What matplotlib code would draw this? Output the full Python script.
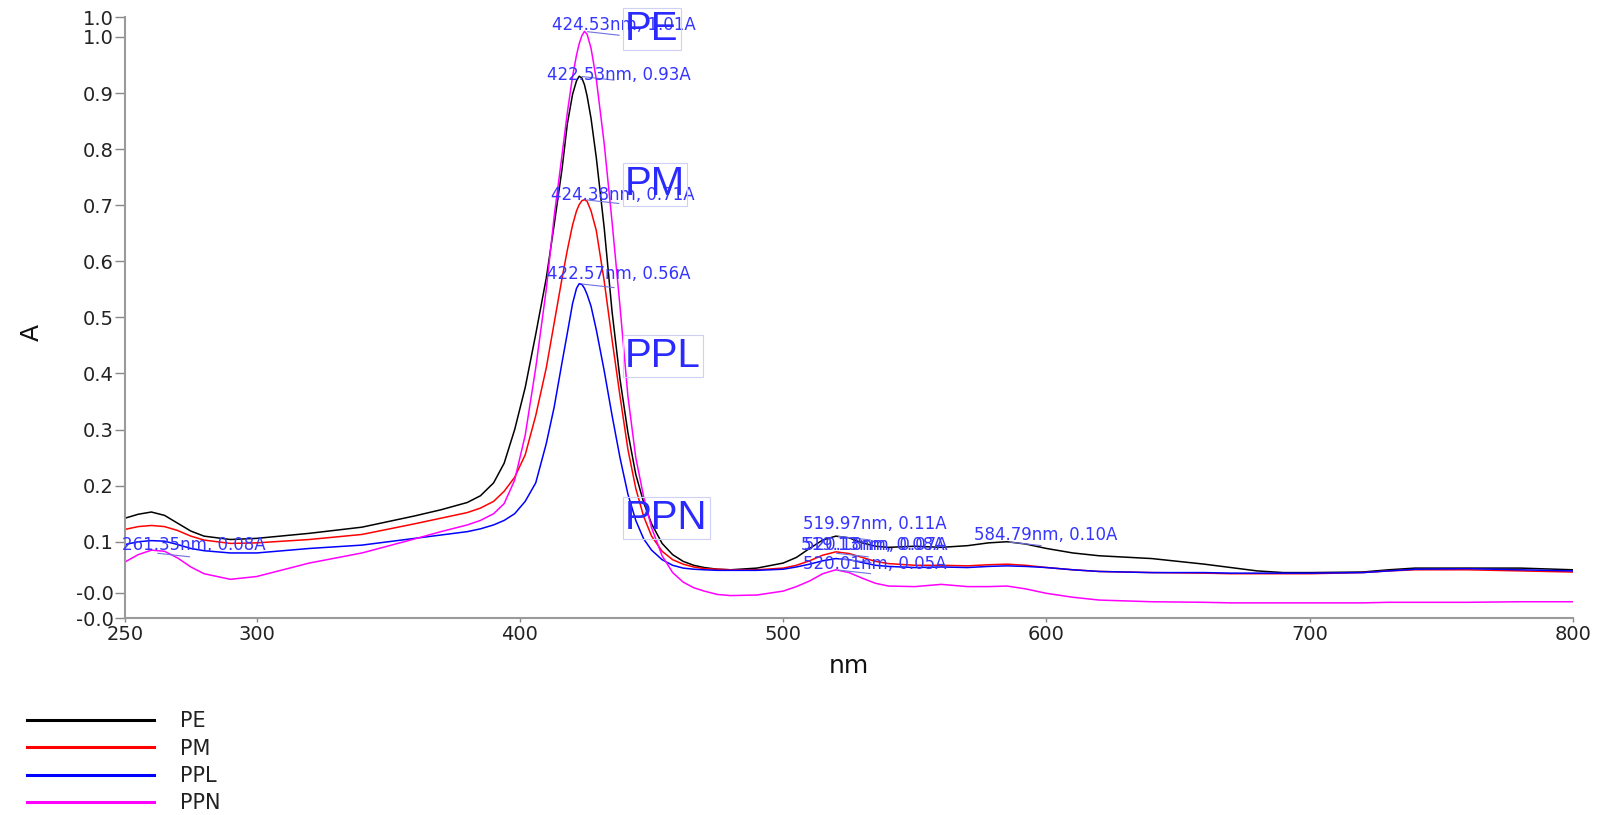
import numpy as np
import matplotlib
matplotlib.use('Agg')
import matplotlib.pyplot as plt

# wavelength grid (nm) shared by the four spectra
wavelength = [250, 255, 260, 265, 270, 275, 280, 290, 300, 320, 340, 360, 370, 380, 385, 390, 394,
              398, 402, 406, 410, 413, 416, 418, 420, 421.5, 422.5, 423.5, 424.5, 425.5, 427, 429,
              432, 435, 438, 441, 444, 447, 450, 454, 458, 462, 466, 470, 475, 480,
              490, 500, 505, 510, 515, 520, 525, 530, 535, 540, 550, 560, 570, 578, 585, 592,
              600, 610, 620, 640, 660, 670, 680, 690, 700, 720, 730, 740, 760, 780, 800]

# absorbance (A) of each sample
pe = [0.142, 0.149, 0.153, 0.147, 0.133, 0.119, 0.110, 0.104, 0.106, 0.115, 0.126, 0.146, 0.157, 0.170, 0.182, 0.205, 0.240,
      0.300, 0.375, 0.470, 0.570, 0.665, 0.765, 0.845, 0.898, 0.922, 0.930, 0.927, 0.915, 0.895, 0.855, 0.785,
      0.660, 0.510, 0.390, 0.295, 0.220, 0.170, 0.132, 0.097, 0.077, 0.065, 0.058, 0.054, 0.051, 0.050,
      0.053, 0.062, 0.072, 0.088, 0.103, 0.110, 0.107, 0.098, 0.092, 0.090, 0.092, 0.090, 0.093, 0.098, 0.100, 0.096,
      0.088, 0.080, 0.075, 0.070, 0.060, 0.054, 0.048, 0.045, 0.045, 0.046, 0.050, 0.053, 0.053, 0.053, 0.050]
pm = [0.122, 0.127, 0.129, 0.127, 0.120, 0.110, 0.103, 0.097, 0.098, 0.104, 0.113, 0.132, 0.142, 0.152, 0.160, 0.172, 0.190,
      0.215, 0.255, 0.325, 0.410, 0.490, 0.570, 0.620, 0.665, 0.690, 0.701, 0.708, 0.710, 0.707, 0.690, 0.655,
      0.565, 0.460, 0.360, 0.265, 0.195, 0.145, 0.110, 0.083, 0.068, 0.060, 0.055, 0.052, 0.051, 0.050,
      0.050, 0.053, 0.058, 0.066, 0.076, 0.082, 0.079, 0.072, 0.065, 0.061, 0.058, 0.058, 0.057, 0.059, 0.060, 0.058,
      0.054, 0.050, 0.047, 0.045, 0.044, 0.043, 0.043, 0.043, 0.043, 0.045, 0.048, 0.050, 0.050, 0.048, 0.046]
ppl = [0.095, 0.100, 0.102, 0.101, 0.095, 0.088, 0.084, 0.080, 0.080, 0.088, 0.094, 0.106, 0.112, 0.118, 0.123, 0.130, 0.138,
       0.150, 0.172, 0.205, 0.275, 0.340, 0.420, 0.472, 0.525, 0.552, 0.560, 0.559, 0.552, 0.541, 0.520, 0.478,
       0.405, 0.325, 0.250, 0.185, 0.138, 0.105, 0.085, 0.068, 0.058, 0.053, 0.051, 0.050, 0.049, 0.049,
       0.049, 0.051, 0.055, 0.060, 0.066, 0.070, 0.068, 0.063, 0.058, 0.056, 0.054, 0.055, 0.054, 0.056, 0.057, 0.056,
       0.054, 0.050, 0.047, 0.045, 0.045, 0.044, 0.044, 0.044, 0.044, 0.045, 0.048, 0.051, 0.052, 0.050, 0.048]
ppn = [0.064, 0.077, 0.085, 0.083, 0.071, 0.055, 0.043, 0.033, 0.038, 0.062, 0.080, 0.105, 0.118, 0.130, 0.138, 0.150, 0.168,
       0.210, 0.290, 0.410, 0.550, 0.680, 0.790, 0.865, 0.930, 0.968, 0.988, 1.002, 1.010, 1.005, 0.980, 0.925,
       0.810, 0.670, 0.520, 0.360, 0.250, 0.180, 0.125, 0.075, 0.045, 0.028, 0.018, 0.012, 0.006, 0.004,
       0.005, 0.012, 0.020, 0.030, 0.043, 0.050, 0.045, 0.035, 0.026, 0.021, 0.020, 0.024, 0.020, 0.020, 0.021, 0.016,
       0.008, 0.001, -0.004, -0.007, -0.008, -0.009, -0.009, -0.009, -0.009, -0.009, -0.008, -0.008, -0.008, -0.007, -0.007]

names = ['PE', 'PM', 'PPL', 'PPN']
colors = ['#000000', '#ff0000', '#0000ff', '#ff00ff']

# peak picks: (nm, A) and how far each label sits above its peak (points)
peak_nm = [424.53, 422.53, 424.38, 422.57, 519.97, 519.13, 520.18, 520.01, 584.79, 261.35]
peak_a = [1.01, 0.93, 0.71, 0.56, 0.11, 0.08, 0.07, 0.05, 0.10, 0.08]
label_dy = [4.7, 1.0, 3.6, 6.9, 8.4, 5.8, 9.8, 4.0, 5.0, 5.8]

# sample names written beside the main band
name_y = [1.015, 0.737, 0.431, 0.143]

ytick_pos = [-0.036, 0.009, 0.1, 0.2, 0.3, 0.4, 0.5, 0.6, 0.7, 0.8, 0.9, 1.0, 1.035]
ytick_lbl = ['-0.0', '-0.0', '0.1', '0.2', '0.3', '0.4', '0.5', '0.6', '0.7', '0.8', '0.9', '1.0', '1.0']
xtick_pos = [250, 300, 400, 500, 600, 700, 800]

fig = plt.figure(figsize=(16.03, 8.15), dpi=100)
ax = fig.add_axes([0.078, 0.2417, 0.9033, 0.737])

lines = []
for y, c, n in zip([pe, pm, ppl, ppn], colors, names):
    ln, = ax.plot(wavelength, y, color=c, lw=1.1, label=n, solid_joinstyle='round')
    lines.append(ln)

ax.set_xlim(250, 800)
ax.set_ylim(-0.036, 1.035)
ax.set_xticks(xtick_pos)
ax.set_yticks(ytick_pos)
ax.set_yticklabels(ytick_lbl)

for s in ['top', 'right']:
    ax.spines[s].set_visible(False)
for s in ['left', 'bottom']:
    ax.spines[s].set_color('#9a9a9a')
    ax.spines[s].set_linewidth(1.5)
ax.tick_params(axis='y', colors='#888888', length=7, width=1, pad=1, labelsize=14, labelcolor='#222222')
ax.tick_params(axis='x', colors='#888888', length=3, width=1, pad=2, labelsize=14, labelcolor='#222222')

ax.set_xlabel('nm', fontsize=18, color='#111111')
ax.set_ylabel('A', fontsize=18, color='#111111')
ax.xaxis.set_label_coords(0.5, -0.060)
ax.yaxis.set_label_coords(-0.056, 0.476)

# peak labels with short leader lines
for x0, a0, dy in zip(peak_nm, peak_a, label_dy):
    ax.annotate('', xy=(x0, a0), xytext=(27, -3), textcoords='offset points',
                arrowprops=dict(arrowstyle='-', color='#7070e0', lw=0.8))
    ax.annotate(f'{x0:.2f}nm, {a0:.2f}A', xy=(x0, a0), xytext=(-23.5, dy),
                textcoords='offset points', ha='left', va='center',
                fontsize=12, color='#3535ff')

for n, yy in zip(names, name_y):
    ax.text(440, yy, n, fontsize=29, color='#2a2aff', family='Liberation Sans',
            ha='left', va='center',
            bbox=dict(boxstyle='square,pad=0.05', fc='none', ec='#d0d0f4', lw=0.8))

leg = fig.legend(handles=lines, loc='upper left', bbox_to_anchor=(0.017, 0.127),
                 frameon=False, handlelength=6.1, handletextpad=1.25,
                 labelspacing=0.35, borderpad=0, borderaxespad=0,
                 prop={'size': 15})
for lh in leg.get_lines():
    lh.set_linewidth(2.2)
for t in leg.get_texts():
    t.set_color('#222222')

fig.savefig('out.png', dpi=100)
